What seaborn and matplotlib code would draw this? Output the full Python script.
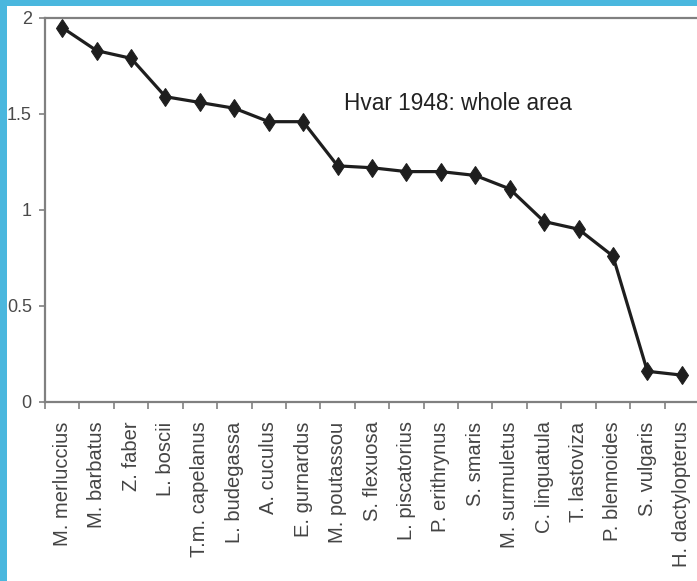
import pandas as pd
import matplotlib
matplotlib.use("Agg")
import matplotlib.pyplot as plt
import seaborn as sns
from matplotlib.patches import Rectangle
from matplotlib.ticker import FixedLocator

species = [
    "M. merluccius", "M. barbatus", "Z. faber", "L. boscii", "T.m. capelanus",
    "L. budegassa", "A. cuculus", "E. gurnardus", "M. poutassou", "S. flexuosa",
    "L. piscatorius", "P. erithrynus", "S. smaris", "M. surmuletus", "C. linguatula",
    "T. lastoviza", "P. blennoides", "S. vulgaris", "H. dactylopterus",
]
values = [1.95, 1.83, 1.79, 1.59, 1.56, 1.53, 1.46, 1.46, 1.23, 1.22,
          1.20, 1.20, 1.18, 1.11, 0.94, 0.90, 0.76, 0.16, 0.14]
y_ticks = [0, 0.5, 1, 1.5, 2]
y_tick_labels = ["0", "0.5", "1", "1.5", "2"]
title_text = "Hvar 1948: whole area"

sns.set_style("white")
plt.rcParams['font.family'] = ['Liberation Sans', 'DejaVu Sans']

df = pd.DataFrame({'species': species, 'value': values})

W, H = 697, 581
fig = plt.figure(figsize=(W / 100, H / 100), dpi=100)
fig.patch.set_facecolor('#4ab7de')
# white slide area inside the blue frame, kept behind the axes
bg = Rectangle((7 / W, 0), 1, 1 - 6 / H, transform=fig.transFigure,
               facecolor='white', edgecolor='none', zorder=-10)
fig.add_artist(bg)

ax = fig.add_axes([45 / W, 1 - 402 / H, 654 / W, 384 / H])
ax.set_zorder(5)
ax.set_facecolor('white')

sns.lineplot(data=df, x='species', y='value', ax=ax, color='#1e1e1e',
             linewidth=2.3, marker='d', markersize=9.5, markeredgecolor='#1e1e1e',
             sort=False)

ax.set_xlim(-0.5, len(species) - 0.5)
ax.set_ylim(0, 2)
ax.set_xlabel("")
ax.set_ylabel("")

ax.set_yticks(y_ticks)
ax.set_yticklabels(y_tick_labels, fontsize=13, color='#4a4a4a')
ax.tick_params(axis='y', length=4.5, width=1.2, color='#808080', direction='out', pad=5, left=True)

ax.set_xticks(range(len(species)))
ax.set_xticklabels(species, rotation=90, fontsize=14.5, color='#444444')
ax.tick_params(axis='x', which='major', length=0, pad=14)
ax.xaxis.set_minor_locator(FixedLocator([i - 0.5 for i in range(len(species) + 1)]))
ax.tick_params(axis='x', which='minor', length=5, width=1.2, color='#808080',
               direction='out', bottom=True)

for side in ['left', 'bottom', 'top']:
    ax.spines[side].set_color('#808080')
    ax.spines[side].set_linewidth(1.6)
ax.spines['right'].set_visible(False)

ax.text(8.2, 1.555, title_text, fontsize=16.3, color='#222222', va='center', ha='left')

fig.savefig("out.png", dpi=100)
